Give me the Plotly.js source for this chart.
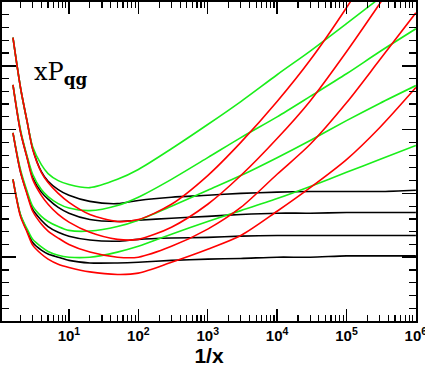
<!DOCTYPE html>
<html>
<head>
<meta charset="utf-8">
<script src="https://cdn.plot.ly/plotly-3.0.1.min.js"></script>
<style>
  body { margin: 0; background: #fff; }
  #myPlot1 { width: 425px; height: 368px; }
</style>
</head>
<body>
<div id="myPlot1"></div>
<script>
var invX = [1.56, 2, 2.5, 3, 4, 5, 7, 10, 20, 50, 100, 300, 1e3, 3e3, 1e4, 3e4, 1e5, 3e5, 1e6];

// black family (flat at small x)
var black1 = [4.44, 3.66, 3.12, 2.70, 2.34, 2.19, 2.06, 1.97, 1.875, 1.84, 1.89, 1.94, 1.97, 2.00, 2.02, 2.03, 2.03, 2.03, 2.05];
var black2 = [3.70, 2.97, 2.56, 2.25, 2.02, 1.91, 1.78, 1.69, 1.59, 1.56, 1.58, 1.61, 1.64, 1.67, 1.69, 1.69, 1.70, 1.70, 1.70];
var black3 = [2.95, 2.34, 2.00, 1.75, 1.58, 1.48, 1.39, 1.33, 1.27, 1.25, 1.28, 1.30, 1.31, 1.33, 1.34, 1.34, 1.34, 1.34, 1.34];
var black4 = [2.22, 1.66, 1.41, 1.23, 1.11, 1.05, 1.00, 0.95, 0.91, 0.91, 0.92, 0.95, 0.97, 0.98, 1.00, 1.00, 1.02, 1.02, 1.02];

// green family (single log rise)
var green1 = [4.44, 3.66, 3.12, 2.73, 2.45, 2.31, 2.20, 2.14, 2.09, 2.22, 2.375, 2.70, 3.08, 3.44, 3.86, 4.23, 4.66, 5.06, 5.50];
var green2 = [3.70, 3.00, 2.58, 2.30, 2.06, 1.95, 1.84, 1.77, 1.73, 1.81, 1.94, 2.22, 2.56, 2.875, 3.20, 3.52, 3.875, 4.22, 4.58];
var green3 = [2.95, 2.375, 2.03, 1.80, 1.64, 1.56, 1.48, 1.42, 1.41, 1.48, 1.58, 1.80, 2.05, 2.28, 2.56, 2.83, 3.14, 3.41, 3.69];
var green4 = [2.22, 1.67, 1.44, 1.28, 1.16, 1.09, 1.03, 1.00, 1.00, 1.08, 1.17, 1.36, 1.56, 1.73, 1.92, 2.11, 2.33, 2.53, 2.75];

// red family (steep rise)
var red1 = [4.44, 3.66, 3.12, 2.69, 2.33, 2.17, 2.00, 1.86, 1.67, 1.56, 1.59, 1.83, 2.28, 2.80, 3.44, 4.09, 4.91, 5.73, 6.59];
var red2 = [3.70, 2.97, 2.55, 2.22, 1.97, 1.83, 1.67, 1.55, 1.39, 1.28, 1.28, 1.47, 1.83, 2.28, 2.86, 3.45, 4.22, 4.97, 5.81];
var red3 = [2.95, 2.34, 1.98, 1.72, 1.52, 1.41, 1.30, 1.20, 1.08, 1.00, 1.00, 1.17, 1.44, 1.78, 2.30, 2.77, 3.42, 4.09, 4.83];
var red4 = [2.22, 1.64, 1.39, 1.19, 1.05, 0.97, 0.89, 0.84, 0.77, 0.73, 0.75, 0.92, 1.125, 1.34, 1.72, 2.09, 2.53, 3.03, 3.66];

var decades = [1, 2, 3, 4, 5, 6];

function makeTrace(yy, col){
	return {
		x: invX,
		y: yy,
		type: 'scatter',
		mode: 'lines',
		line: {color: col, width: 1.6, shape: 'spline', smoothing: 0.8},
		hoverinfo: 'skip',
		showlegend: false,
	};
}

function plotData(){
	var traceArray = [];
	var blacks = [black1, black2, black3, black4];
	var greens = [green1, green2, green3, green4];
	var reds = [red1, red2, red3, red4];
	for(var i = 0; i < 4; i++) traceArray.push(makeTrace(blacks[i], '#000000'));
	for(var i = 0; i < 4; i++) traceArray.push(makeTrace(greens[i], '#1aee1a'));
	for(var i = 0; i < 4; i++) traceArray.push(makeTrace(reds[i], '#ff0000'));

	var tickVals = [], tickText = [], minorVals = [];
	for(var d = 0; d < decades.length; d++){
		tickVals.push(Math.pow(10, decades[d]));
		tickText.push('10<sup>' + decades[d] + '</sup>');
	}
	for(var e = 0; e < 6; e++){
		for(var m = 2; m <= 9; m++) minorVals.push(m * Math.pow(10, e));
	}

	var plotLayout1 = {
		width: 425,
		height: 368,
		margin: {l: 2, r: 9, t: 2, b: 47},
		paper_bgcolor: '#ffffff',
		plot_bgcolor: '#ffffff',
		showlegend: false,
		xaxis: {
			type: 'log',
			range: [0.035, 6.002],
			showline: true,
			linecolor: '#000',
			linewidth: 2,
			mirror: 'allticks',
			showgrid: false,
			zeroline: false,
			ticks: 'inside',
			ticklen: 12,
			tickwidth: 1.5,
			tickcolor: '#000',
			tickmode: 'array',
			tickvals: tickVals,
			ticktext: tickText,
			ticklabeloverflow: 'allow',
			tickfont: {family: 'Liberation Sans', size: 15, color: '#000', weight: 'bold'},
			minor: {ticks: 'inside', ticklen: 6, tickwidth: 1.2, tickcolor: '#000', tickmode: 'array', tickvals: minorVals, showgrid: false},
			title: {text: '1/x', font: {family: 'Liberation Sans', size: 21, color: '#000', weight: 'bold'}, standoff: 5},
		},
		yaxis: {
			range: [0, 5],
			showline: true,
			linecolor: '#000',
			linewidth: 2,
			mirror: 'allticks',
			showgrid: false,
			zeroline: false,
			ticks: 'inside',
			ticklen: 14,
			tickwidth: 1.5,
			tickcolor: '#000',
			dtick: 1,
			showticklabels: false,
			minor: {ticks: 'inside', ticklen: 7, tickwidth: 1.2, tickcolor: '#000', dtick: 0.2, showgrid: false},
		},
		annotations: [{
			xref: 'paper', yref: 'paper',
			x: 0.072, y: 0.775,
			xanchor: 'left', yanchor: 'middle',
			showarrow: false,
			text: 'xP<sub><b>qg</b></sub>',
			font: {family: 'DejaVu Serif', size: 24, color: '#000'},
		}],
	};

	var myPlot1 = document.getElementById('myPlot1');
	Plotly.newPlot(myPlot1, traceArray, plotLayout1, {displayModeBar: false, staticPlot: true});
}

plotData();
</script>
</body>
</html>
